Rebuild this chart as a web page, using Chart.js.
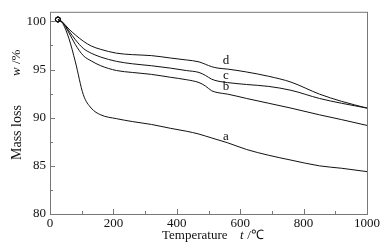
<!DOCTYPE html>
<html lang="en">
<head>
    <meta charset="UTF-8">
    <title>Mass loss curves</title>
    <style>
        body { margin: 0; background: #fff; }
        #wrap { width: 387px; height: 246px; }
    </style>
</head>
<body>
    <div id="wrap"><canvas id="tga"></canvas></div>

    <script src="https://cdn.jsdelivr.net/npm/chart.js"></script>
    <script>
        const temps = [25, 40, 60, 80, 105, 130, 160, 210, 260, 320, 380, 430, 470, 490, 510, 530, 560, 620, 690, 760, 850, 920, 1000];
        const curveA = [100.2, 99.8, 98.2, 95.8, 92.4, 91.0, 90.3, 89.9, 89.6, 89.3, 88.9, 88.6, 88.3, 88.1, 87.9, 87.7, 87.4, 86.7, 86.1, 85.6, 85.0, 84.75, 84.4];
        const curveB = [100.2, 99.9, 98.8, 97.6, 96.45, 95.9, 95.4, 94.9, 94.7, 94.5, 94.2, 93.95, 93.65, 93.3, 92.8, 92.6, 92.45, 92.0, 91.5, 91.0, 90.3, 89.8, 89.2];
        const curveC = [100.2, 99.9, 99.0, 98.1, 97.2, 96.7, 96.3, 95.85, 95.6, 95.4, 95.15, 94.9, 94.7, 94.4, 94.0, 93.8, 93.65, 93.45, 93.25, 92.85, 92.0, 91.5, 91.0];
        const curveD = [100.2, 99.9, 99.2, 98.6, 97.95, 97.45, 97.1, 96.7, 96.55, 96.45, 96.2, 96.0, 95.8, 95.55, 95.3, 95.15, 95.05, 94.75, 94.3, 93.7, 92.45, 91.7, 91.0];

        const curveNames = ['a', 'b', 'c', 'd'];
        // where the letters sit next to the curves (temperature, mass)
        const labelAt = [[555, 88.0], [555, 93.2], [555, 94.4], [555, 95.95]];

        const xTicks = [0, 200, 400, 600, 800, 1000];
        const xMinor = [100, 300, 500, 700, 900];
        const yTicks = [80, 85, 90, 95, 100];
        const yMinor = [82.5, 87.5, 92.5, 97.5];

        const serif = '"Liberation Serif", "Times New Roman", Times, serif';
        const frameColor = '#777';

        function toPoints(values) {
            return values.map((v, i) => ({ x: temps[i], y: v }));
        }

        // frame, inward ticks, curve letters and axis titles
        const decorations = {
            id: 'decorations',
            afterDraw(chart) {
                const ctx = chart.ctx;
                const area = chart.chartArea;
                const xs = chart.scales.x;
                const ys = chart.scales.y;
                ctx.save();
                ctx.strokeStyle = frameColor;
                ctx.lineWidth = 1;
                ctx.strokeRect(area.left + 0.5, area.top + 0.5, area.right - area.left, area.bottom - area.top);

                ctx.beginPath();
                xTicks.forEach(t => {
                    const px = Math.round(xs.getPixelForValue(t)) + 0.5;
                    ctx.moveTo(px, area.bottom);
                    ctx.lineTo(px, area.bottom - 5);
                });
                xMinor.forEach(t => {
                    const px = Math.round(xs.getPixelForValue(t)) + 0.5;
                    ctx.moveTo(px, area.bottom);
                    ctx.lineTo(px, area.bottom - 3);
                });
                yTicks.forEach(t => {
                    const py = Math.round(ys.getPixelForValue(t)) + 0.5;
                    ctx.moveTo(area.left, py);
                    ctx.lineTo(area.left + 5, py);
                });
                yMinor.forEach(t => {
                    const py = Math.round(ys.getPixelForValue(t)) + 0.5;
                    ctx.moveTo(area.left, py);
                    ctx.lineTo(area.left + 3, py);
                });
                ctx.stroke();

                ctx.fillStyle = '#111';
                ctx.font = '13px ' + serif;
                ctx.textAlign = 'center';
                ctx.textBaseline = 'middle';
                curveNames.forEach((n, i) => {
                    ctx.fillText(n, xs.getPixelForValue(labelAt[i][0]), ys.getPixelForValue(labelAt[i][1]));
                });

                // x title
                ctx.textAlign = 'left';
                ctx.fillText('Temperature', 162, 236);
                ctx.font = 'italic 13px ' + serif;
                ctx.fillText('t', 240, 236);
                ctx.font = '13px ' + serif;
                ctx.fillText(' /\u2103', 244, 236);

                // y title, rotated
                ctx.translate(17, 110);
                ctx.rotate(-Math.PI / 2);
                ctx.font = '14px ' + serif;
                ctx.fillText('Mass loss', -50, 0);
                ctx.font = 'italic 13px ' + serif;
                ctx.fillText('w', 34, 0);
                ctx.font = '13px ' + serif;
                ctx.fillText('/%', 46, 0);
                ctx.restore();
            }
        };

        const lineStyle = {
            borderColor: '#111',
            borderWidth: 1,
            fill: false,
            cubicInterpolationMode: 'monotone',
            pointRadius: ctx => (ctx.dataIndex === 0 ? 2.5 : 0),
            pointBorderColor: '#111',
            pointBackgroundColor: 'rgba(0,0,0,0)',
            pointBorderWidth: 1
        };

        new Chart(document.getElementById('tga'), {
            type: 'line',
            data: {
                datasets: [curveA, curveB, curveC, curveD].map((vals, i) => Object.assign({
                    label: curveNames[i],
                    data: toPoints(vals)
                }, lineStyle))
            },
            options: {
                responsive: true,
                maintainAspectRatio: false,
                animation: false,
                layout: { padding: { top: 5, right: 20, left: 0, bottom: 0 } },
                plugins: {
                    legend: { display: false },
                    tooltip: { enabled: false }
                },
                scales: {
                    x: {
                        type: 'linear',
                        min: 0,
                        max: 1000,
                        afterBuildTicks: s => { s.ticks = xTicks.map(v => ({ value: v })); },
                        afterFit: s => { s.height = 32; },
                        grid: { display: false, drawTicks: false, tickLength: 0 },
                        border: { display: false },
                        ticks: {
                            color: '#111',
                            font: { family: serif, size: 13 },
                            padding: 2,
                            maxRotation: 0,
                            callback: v => String(v)
                        }
                    },
                    y: {
                        min: 80,
                        max: 101,
                        afterBuildTicks: s => { s.ticks = yTicks.map(v => ({ value: v })); },
                        afterFit: s => { s.width = 50; },
                        grid: { display: false, drawTicks: false, tickLength: 0 },
                        border: { display: false },
                        ticks: {
                            color: '#111',
                            font: { family: serif, size: 13 },
                            padding: 4,
                            callback: v => String(v)
                        }
                    }
                }
            },
            plugins: [decorations]
        });
    </script>
</body>
</html>
